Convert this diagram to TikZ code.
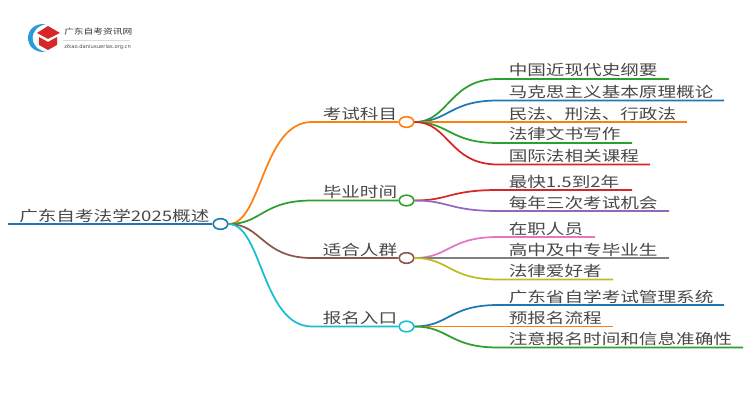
\documentclass[tikz,border=0pt]{standalone}
\usepackage{fontspec}
\setmainfont[FakeStretch=1.28]{Noto Sans CJK SC}
\newfontfamily\latinfont{DejaVu Sans}
\tikzset{>=stealth}
\definecolor{tabblue}{HTML}{1F77B4}
\definecolor{taborange}{HTML}{FF7F0E}
\definecolor{tabgreen}{HTML}{2CA02C}
\definecolor{tabred}{HTML}{D62728}
\definecolor{tabpurple}{HTML}{9467BD}
\definecolor{tabbrown}{HTML}{8C564B}
\definecolor{tabpink}{HTML}{E377C2}
\definecolor{tabgray}{HTML}{7F7F7F}
\definecolor{tabolive}{HTML}{BCBD22}
\definecolor{tabcyan}{HTML}{17BECF}
\definecolor{labeltext}{HTML}{484848}
\definecolor{logoblue}{HTML}{2A9BD8}
\tikzset{
    hub/.style={draw=#1, fill=white, ellipse, line width=1.2pt, minimum width=11pt, minimum height=8pt, inner sep=0pt},
    label/.style={anchor=base west, inner sep=0pt, text=labeltext, font=\fontsize{10.9pt}{12pt}\selectfont},
    wire/.style={line width=1.3pt, draw=#1},
}
\usetikzlibrary{shapes.geometric}
\begin{document}
\begin{tikzpicture}[x=0.75pt, y=-0.75pt]
    \useasboundingbox (0,0) rectangle (750,410);
    % logo
    \fill[logoblue] (46,24) .. controls (22,22) and (22,54) .. (46,52) .. controls (28,48) and (28,28) .. cycle;
    \fill[tabred] (37,33) -- (48,26) -- (60,33) -- (48,39) -- cycle;
    \fill[tabred] (39,37) -- (48,42) -- (57,37) -- (57,45) -- (48,50) -- (39,45) -- cycle;
    \node[label, font=\fontsize{5.7pt}{7pt}\selectfont, text=black!80] (logotitle) at (64,35) {广东自考资讯网};
    \node[label, font=\latinfont\fontsize{3.9pt}{4pt}\selectfont, text=black!70] (logourl) at (64,49) {zikao.daniuxuerias.org.cn};
    \draw[black!15, line width=0.4pt] (63,40) -- (130,40);
    % root and branches
    \coordinate (rootstart) at (8,224);
    \node[hub=tabblue] (root) at (220.5,224) {};
    \node[label] (roottext) at (19,221) {广东自考法学2025概述};
    \draw[wire=tabblue, line width=1.7pt] (rootstart) -- (root);
    \foreach \name/\y/\col/\txt in {exam/122/taborange/考试科目, time/200.5/tabgreen/毕业时间, crowd/258/tabbrown/适合人群, entry/326.5/tabcyan/报名入口} {
        \node[hub=\col] (\name) at (406.5,\y) {};
        \coordinate (\name in) at (312,\y);
        \node[label] at (322.5,\y-3) {\txt};
        \draw[wire=\col] (root.east) .. controls (262,224) and (262,\y) .. (\name in) -- (\name);
    }
    % leaves
    \foreach \hub/\hy/\y/\xend/\col/\txt in {
        exam/122/79/669/tabgreen/中国近现代史纲要,
        exam/122/100.5/724/tabblue/马克思主义基本原理概论,
        exam/122/122/687/taborange/民法、刑法、行政法,
        exam/122/143/632/tabgreen/法律文书写作,
        exam/122/164.5/650/tabred/国际法相关课程,
        time/200.5/190/632/tabred/最快1.5到2年,
        time/200.5/211/669/tabpurple/每年三次考试机会,
        crowd/258/237/595/tabpink/在职人员,
        crowd/258/258/669/tabgray/高中及中专毕业生,
        crowd/258/279.5/613/tabolive/法律爱好者,
        entry/326.5/305/724/tabblue/广东省自学考试管理系统,
        entry/326.5/326.5/613/taborange/预报名流程,
        entry/326.5/347.5/743/tabgreen/注意报名时间和信息准确性} {
        \coordinate (bend) at (498,\y);
        \coordinate (tip) at (\xend,\y);
        \node[label] at (508.5,\y-3) {\txt};
        \draw[wire=\col] (\hub.east) .. controls (449,\hy) and (449,\y) .. (bend) -- (tip);
    }
\end{tikzpicture}
\end{document}
